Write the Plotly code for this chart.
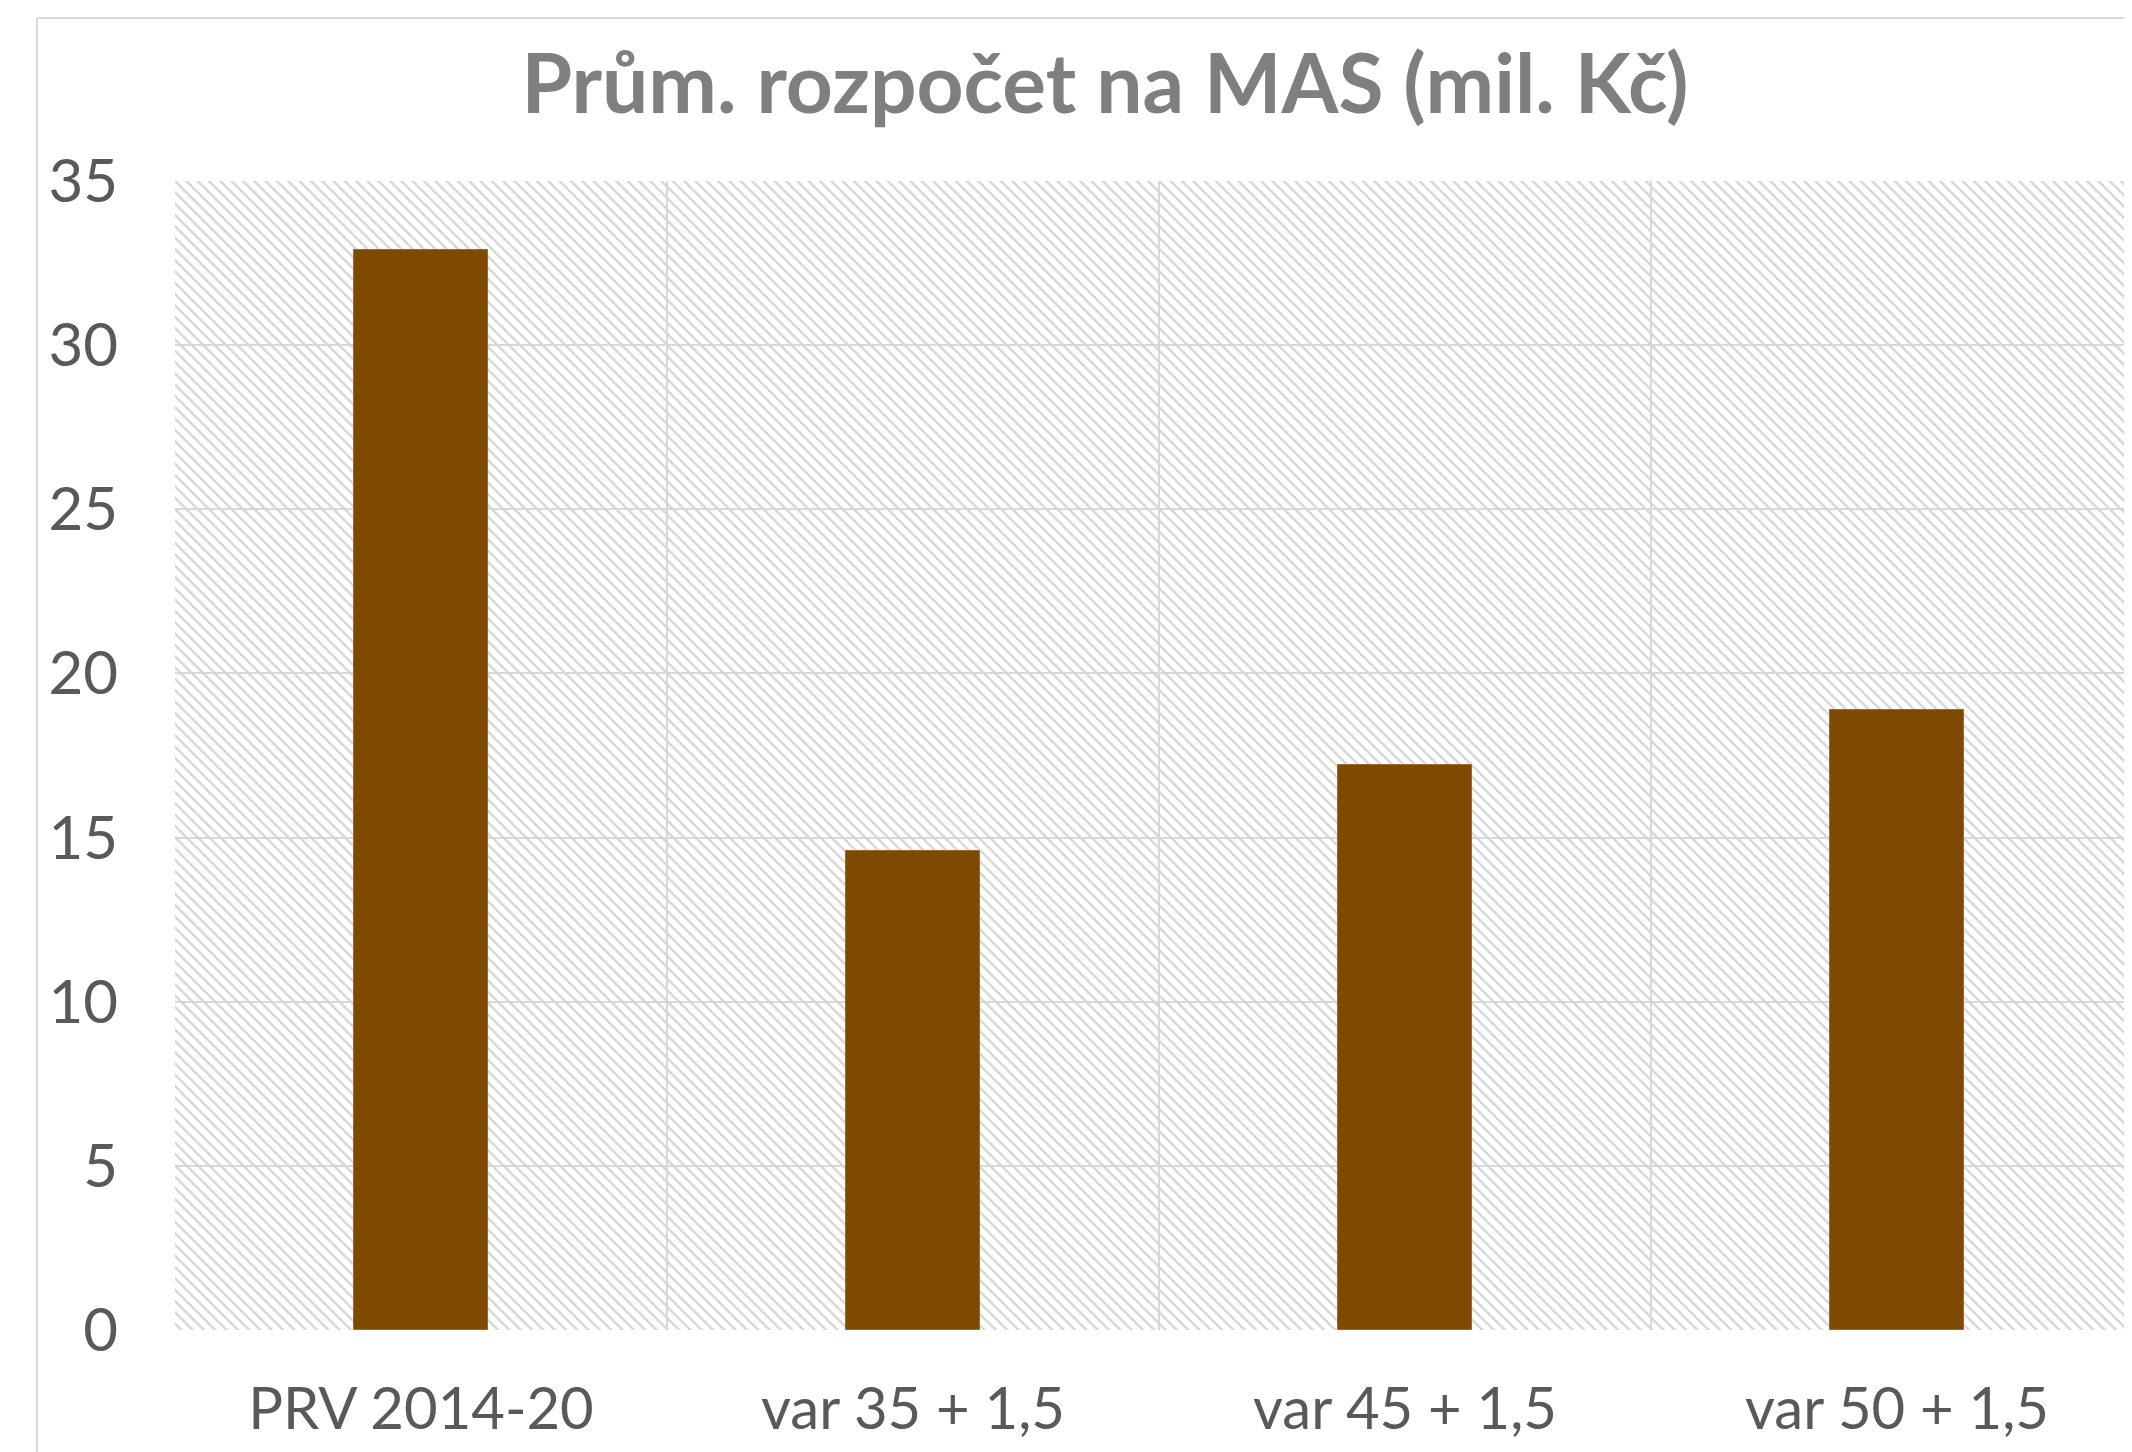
import plotly.graph_objects as go

categories = ["PRV 2014-20", "var 35 + 1,5", "var 45 + 1,5", "var 50 + 1,5"]
values = [32.9, 14.6, 17.2, 18.9]
y_ticks = [0, 5, 10, 15, 20, 25, 30, 35]
title_text = "Prům. rozpočet na MAS (mil. Kč)"

W, H = 2132, 1452
OFF = 8  # page body margin
ML, MR = 175 - OFF, 0
MT = 181 - OFF
MB = H - (1330 - OFF)
plot_w = W - ML - MR
plot_h = H - MT - MB
cat_px = 492.0
y_max = y_ticks[-1]

fig = go.Figure()
# hatched plot-area background, one panel per category
fig.add_trace(go.Bar(
    x=categories, y=[y_max] * len(categories), width=1.0,
    marker=dict(color="#d5d5d5", line=dict(width=0),
                pattern=dict(shape="\\", size=8, solidity=0.3, fillmode="replace")),
    hoverinfo="skip", showlegend=False,
))
fig.add_trace(go.Bar(
    x=categories, y=values, width=0.272,
    marker=dict(color="#7E4900", line=dict(width=1, color="#9a6a2e")),
    showlegend=False,
))

# outer chart border (left and top visible)
bx0 = (37 - OFF - ML) / plot_w
by1 = (H - MB - (18 - OFF)) / plot_h
fig.add_shape(type="line", xref="paper", yref="paper", x0=bx0, x1=bx0, y0=-0.2, y1=by1,
              line=dict(color="#d9d9d9", width=2))
fig.add_shape(type="line", xref="paper", yref="paper", x0=bx0, x1=1.05, y0=by1, y1=by1,
              line=dict(color="#d9d9d9", width=2))

fig.update_layout(
    width=W, height=H,
    margin=dict(l=ML, r=MR, t=MT, b=MB, pad=0),
    paper_bgcolor="white", plot_bgcolor="white",
    barmode="overlay", bargap=0,
    showlegend=False,
    font=dict(family="Lato", color="#595959"),
    title=dict(text=title_text, x=(1105 - OFF) / W, xanchor="center", xref="container",
               y=1 - (84 - OFF) / H, yanchor="middle", yref="container",
               font=dict(family="Lato", size=82, color="#7f7f7f", weight="bold")),
)
fig.update_xaxes(
    type="category", range=[-0.5, -0.5 + plot_w / cat_px],
    tickson="boundaries", showgrid=True, gridcolor="#d9d9d9", gridwidth=2,
    ticks="", showline=False, zeroline=False,
    tickfont=dict(family="Lato", size=58, color="#595959"),
    ticklabelstandoff=40, automargin=False,
)
fig.update_yaxes(
    range=[0, y_max], tickvals=y_ticks, ticktext=[str(v) for v in y_ticks],
    showgrid=True, gridcolor="#d9d9d9", gridwidth=2, zeroline=False,
    ticks="", showline=False,
    tickfont=dict(family="Lato", size=60, color="#595959"),
    ticklabelstandoff=56, automargin=False,
)
fig.write_html("out.html")
